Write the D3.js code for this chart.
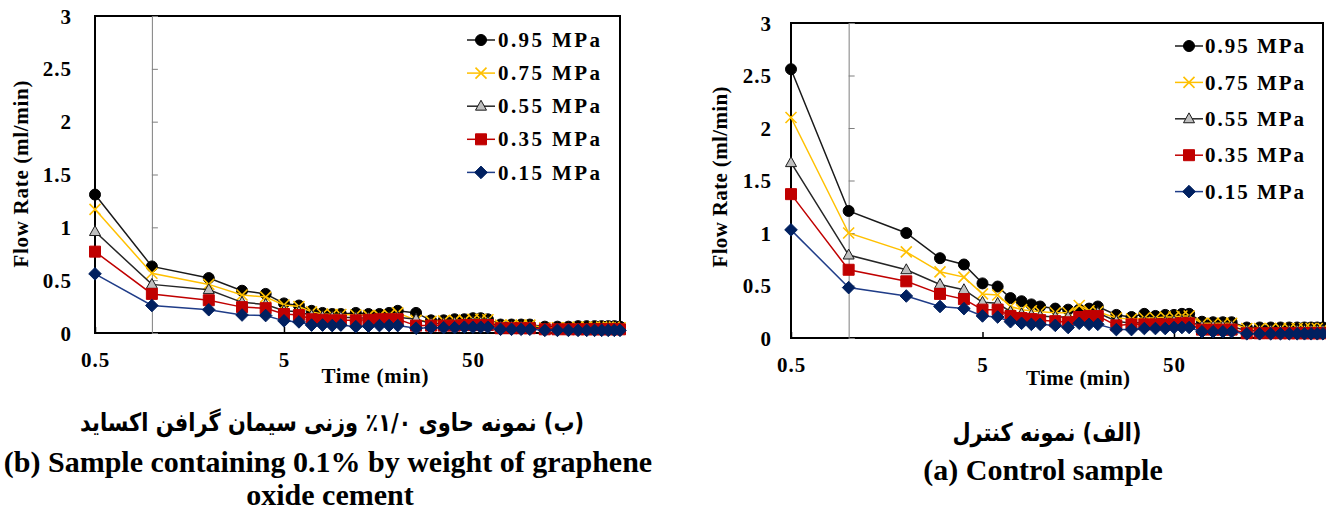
<!DOCTYPE html>
<html><head><meta charset="utf-8">
<script src="https://cdn.jsdelivr.net/npm/d3@7"></script>
<style>
body{margin:0;background:#fff}
svg{display:block}
text{font-family:"Liberation Serif","Times New Roman",serif;font-weight:bold;fill:#000}
</style>
</head><body>
<svg id="c" width="1326" height="515"></svg>
<script>
// ---------------- DATA ----------------
const times = [0.5,1,2,3,4,5,6,7,8,9,10,12,14,16,18,20,25,30,35,40,45,50,55,60,70,80,90,100,120,140,160,180,200,220,240,260,280,300];
const seriesNames = ["0.95 MPa","0.75 MPa","0.55 MPa","0.35 MPa","0.15 MPa"];
const yTickValues = [0,0.5,1,1.5,2,2.5,3];
const xTickValues = [0.5,5,50];

// (b) Sample containing 0.1% graphene oxide
const go095 = [1.31,0.63,0.52,0.40,0.37,0.28,0.26,0.21,0.19,0.18,0.18,0.19,0.18,0.18,0.19,0.21,0.19,0.12,0.12,0.13,0.13,0.14,0.14,0.13,0.08,0.08,0.08,0.08,0.06,0.06,0.06,0.065,0.065,0.065,0.065,0.065,0.065,0.06];
const go075 = [1.17,0.565,0.46,0.36,0.34,0.265,0.25,0.20,0.18,0.175,0.175,0.17,0.165,0.165,0.17,0.19,0.12,0.11,0.115,0.12,0.12,0.13,0.13,0.125,0.075,0.075,0.075,0.075,0.05,0.05,0.05,0.055,0.055,0.055,0.055,0.055,0.055,0.05];
const go055 = [0.96,0.46,0.41,0.29,0.27,0.21,0.20,0.165,0.155,0.15,0.15,0.145,0.14,0.14,0.145,0.15,0.13,0.09,0.09,0.095,0.095,0.10,0.10,0.10,0.06,0.06,0.06,0.06,0.04,0.04,0.04,0.04,0.04,0.04,0.04,0.04,0.04,0.04];
const go035 = [0.77,0.37,0.31,0.245,0.235,0.18,0.17,0.13,0.125,0.12,0.12,0.12,0.125,0.13,0.13,0.13,0.07,0.07,0.07,0.07,0.075,0.075,0.075,0.075,0.045,0.045,0.045,0.045,0.035,0.035,0.035,0.035,0.035,0.035,0.035,0.035,0.035,0.035];
const go015 = [0.56,0.26,0.22,0.17,0.165,0.115,0.105,0.075,0.075,0.07,0.075,0.06,0.065,0.07,0.07,0.07,0.045,0.05,0.05,0.05,0.055,0.055,0.055,0.055,0.035,0.035,0.035,0.035,0.025,0.025,0.025,0.025,0.025,0.025,0.025,0.025,0.025,0.025];

// (a) Control sample
const ctl095 = [2.56,1.21,1.00,0.76,0.70,0.52,0.49,0.38,0.35,0.32,0.30,0.28,0.27,0.27,0.28,0.30,0.22,0.20,0.23,0.21,0.22,0.22,0.23,0.23,0.155,0.15,0.15,0.15,0.10,0.10,0.10,0.10,0.10,0.10,0.10,0.10,0.10,0.10];
const ctl075 = [2.10,1.00,0.82,0.63,0.58,0.42,0.41,0.30,0.27,0.26,0.25,0.24,0.24,0.31,0.26,0.25,0.19,0.18,0.19,0.19,0.20,0.20,0.21,0.21,0.14,0.14,0.14,0.14,0.09,0.09,0.09,0.09,0.09,0.09,0.09,0.09,0.09,0.09];
const ctl055 = [1.67,0.79,0.65,0.51,0.46,0.34,0.33,0.25,0.23,0.22,0.21,0.20,0.20,0.20,0.21,0.24,0.16,0.14,0.15,0.15,0.15,0.16,0.16,0.16,0.11,0.11,0.11,0.11,0.07,0.07,0.07,0.07,0.07,0.07,0.07,0.07,0.07,0.07];
const ctl035 = [1.37,0.65,0.54,0.42,0.37,0.27,0.27,0.21,0.19,0.18,0.17,0.16,0.15,0.20,0.21,0.21,0.12,0.13,0.13,0.13,0.13,0.13,0.14,0.14,0.08,0.08,0.08,0.08,0.045,0.045,0.045,0.045,0.045,0.045,0.045,0.045,0.045,0.045];
const ctl015 = [1.03,0.48,0.40,0.30,0.28,0.21,0.20,0.155,0.14,0.13,0.13,0.12,0.10,0.14,0.13,0.13,0.08,0.08,0.09,0.09,0.09,0.10,0.10,0.10,0.06,0.06,0.06,0.06,0.04,0.04,0.04,0.04,0.04,0.04,0.04,0.04,0.04,0.04];

const axisTitleX = "Time (min)";
const axisTitleY = "Flow Rate (ml/min)";
const captionB_fa = "(ب) نمونه حاوی ۱/۰٪ وزنی سیمان گرافن اکساید";
const captionB_en1 = "(b) Sample containing 0.1% by weight of graphene";
const captionB_en2 = "oxide cement";
const captionA_fa = "(الف) نمونه کنترل";
const captionA_en = "(a) Control sample";

// ---------------- STYLES ----------------
const styles = [
  {line:"#1a1a1a", marker:"circle",   fill:"#000",    stroke:"#000"},
  {line:"#FFC000", marker:"x",        fill:"none",    stroke:"#FFC000"},
  {line:"#262626", marker:"triangle", fill:"#BFBFBF", stroke:"#1a1a1a"},
  {line:"#C00000", marker:"square",   fill:"#C00000", stroke:"#C00000"},
  {line:"#1F3C88", marker:"diamond",  fill:"#002060", stroke:"#002060"}
];

function markerPath(type, s){
  switch(type){
    case "circle": { const r=s/2; return `M${-r},0A${r},${r} 0 1,0 ${r},0A${r},${r} 0 1,0 ${-r},0Z`; }
    case "x": { const h=s/2; return `M${-h},${-h}L${h},${h}M${-h},${h}L${h},${-h}`; }
    case "triangle": { const h=s*0.9, w=s/2; return `M0,${-h*0.6}L${w},${h*0.4}L${-w},${h*0.4}Z`; }
    case "square": { const h=s/2; return `M${-h},${-h}H${h}V${h}H${-h}Z`; }
    case "diamond": { const h=s/2+0.8; return `M0,${-h}L${h},0L0,${h}L${-h},0Z`; }
  }
}
function drawMarker(g, st, x, y, s){
  g.append("path").attr("d", markerPath(st.marker, s))
   .attr("transform", `translate(${x},${y})`)
   .attr("fill", st.fill).attr("stroke", st.stroke)
   .attr("stroke-width", st.marker==="x" ? 1.6 : 1);
}

const svg = d3.select("#c");

const panels = [
  { series:[go095,go075,go055,go035,go015],
    x0:95, x1:620, yTop:16, yBot:333, yLabelX:72, xLabelBase:367,
    xTitle:{x:375, y:383, len:107}, yTitle:{x:28, y:174, len:187},
    legend:{lx0:467, lx1:495, mx:481, tx:498, tlen:102, y0:40, dy:33.1, fs:21} },
  { series:[ctl095,ctl075,ctl055,ctl035,ctl015],
    x0:791, x1:1323, yTop:23, yBot:338, yLabelX:772, xLabelBase:371.5,
    xTitle:{x:1078, y:384.5, len:104}, yTitle:{x:727, y:177, len:181},
    legend:{lx0:1175, lx1:1203, mx:1189, tx:1205, tlen:99, y0:46, dy:36.4, fs:21} }
];

panels.forEach(p => {
  const x = d3.scaleLog().domain([0.5, 300]).range([p.x0, p.x1]);
  const y = d3.scaleLinear().domain([0, 3]).range([p.yBot, p.yTop]);
  const g = svg.append("g");

  // plot border
  g.append("rect").attr("x", p.x0).attr("y", p.yTop)
    .attr("width", p.x1 - p.x0).attr("height", p.yBot - p.yTop)
    .attr("fill", "none").attr("stroke", "#000").attr("stroke-width", 2);

  // vertical axis crossing at t = 1 (thin grey, ticks to the right)
  const yAx = g.append("g").attr("transform", `translate(${x(1)},0)`)
    .call(d3.axisRight(y).tickValues(yTickValues).tickSize(6).tickFormat(""));
  yAx.select(".domain").attr("stroke", "#7f7f7f").attr("stroke-width", 1);
  yAx.selectAll(".tick line").attr("stroke", "#7f7f7f").attr("stroke-width", 1);

  // y tick labels
  const yLab = g.append("g").attr("transform", `translate(${p.x0},0)`)
    .call(d3.axisLeft(y).tickValues(yTickValues).tickSize(0).tickPadding(p.x0 - p.yLabelX)
      .tickFormat(d => String(d)));
  yLab.select(".domain").remove();
  yLab.selectAll("text").attr("font-size", 21).attr("dy", "0.34em")
    .attr("letter-spacing", 1).attr("fill", "#000")
    .style("font-family", '"Liberation Serif","Times New Roman",serif').style("font-weight", "bold");

  // x axis (inner ticks) with labels
  const xAx = g.append("g").attr("transform", `translate(0,${p.yBot})`)
    .call(d3.axisBottom(x).tickValues(xTickValues).tickSizeInner(-6).tickSizeOuter(0)
      .tickFormat(d => String(d)));
  xAx.select(".domain").remove();
  xAx.selectAll(".tick line").attr("stroke", "#000").attr("stroke-width", 1.5);
  xAx.selectAll("text").attr("y", p.xLabelBase - p.yBot).attr("dy", 0)
    .attr("font-size", 21).attr("letter-spacing", 1).attr("fill", "#000")
    .style("font-family", '"Liberation Serif","Times New Roman",serif').style("font-weight", "bold");

  // axis titles
  g.append("text").attr("x", p.xTitle.x).attr("y", p.xTitle.y)
    .attr("text-anchor", "middle").attr("font-size", 21)
    .attr("textLength", p.xTitle.len).text(axisTitleX);
  g.append("text").attr("transform", `translate(${p.yTitle.x},${p.yTitle.y}) rotate(-90)`)
    .attr("text-anchor", "middle").attr("font-size", 21)
    .attr("textLength", p.yTitle.len).text(axisTitleY);

  // series
  const line = d3.line().x(d => x(d[0])).y(d => y(d[1]));
  p.series.forEach((vals, i) => {
    const st = styles[i];
    const pts = times.map((t, k) => [t, vals[k]]);
    g.append("path").datum(pts).attr("d", line)
      .attr("fill", "none").attr("stroke", st.line).attr("stroke-width", 1.5);
    pts.forEach(d => drawMarker(g, st, x(d[0]), y(d[1]), 11));
  });

  // legend
  const L = p.legend;
  seriesNames.forEach((name, i) => {
    const st = styles[i];
    const ry = L.y0 + i * L.dy;
    g.append("line").attr("x1", L.lx0).attr("x2", L.lx1).attr("y1", ry).attr("y2", ry)
      .attr("stroke", st.line).attr("stroke-width", 1.5);
    drawMarker(g, st, L.mx, ry, 11);
    g.append("text").attr("x", L.tx).attr("y", ry).attr("dy", "0.34em")
      .attr("font-size", L.fs).attr("textLength", L.tlen).attr("lengthAdjust", "spacing")
      .text(name);
  });
});

// captions
const faFont = '"DejaVu Sans","Noto Sans",sans-serif';
svg.append("text").attr("x", 332).attr("y", 431).attr("text-anchor", "middle")
  .attr("direction", "rtl").attr("font-size", 25).style("font-family", faFont)
  .attr("textLength", 504).attr("lengthAdjust", "spacingAndGlyphs").text(captionB_fa);
svg.append("text").attr("x", 328).attr("y", 472).attr("text-anchor", "middle")
  .attr("font-size", 30).text(captionB_en1);
svg.append("text").attr("x", 330).attr("y", 505).attr("text-anchor", "middle")
  .attr("font-size", 30).text(captionB_en2);
svg.append("text").attr("x", 1047).attr("y", 441).attr("text-anchor", "middle")
  .attr("direction", "rtl").attr("font-size", 25).style("font-family", faFont)
  .attr("textLength", 189).attr("lengthAdjust", "spacingAndGlyphs").text(captionA_fa);
svg.append("text").attr("x", 1043).attr("y", 480).attr("text-anchor", "middle")
  .attr("font-size", 30).text(captionA_en);
</script>
</body></html>
